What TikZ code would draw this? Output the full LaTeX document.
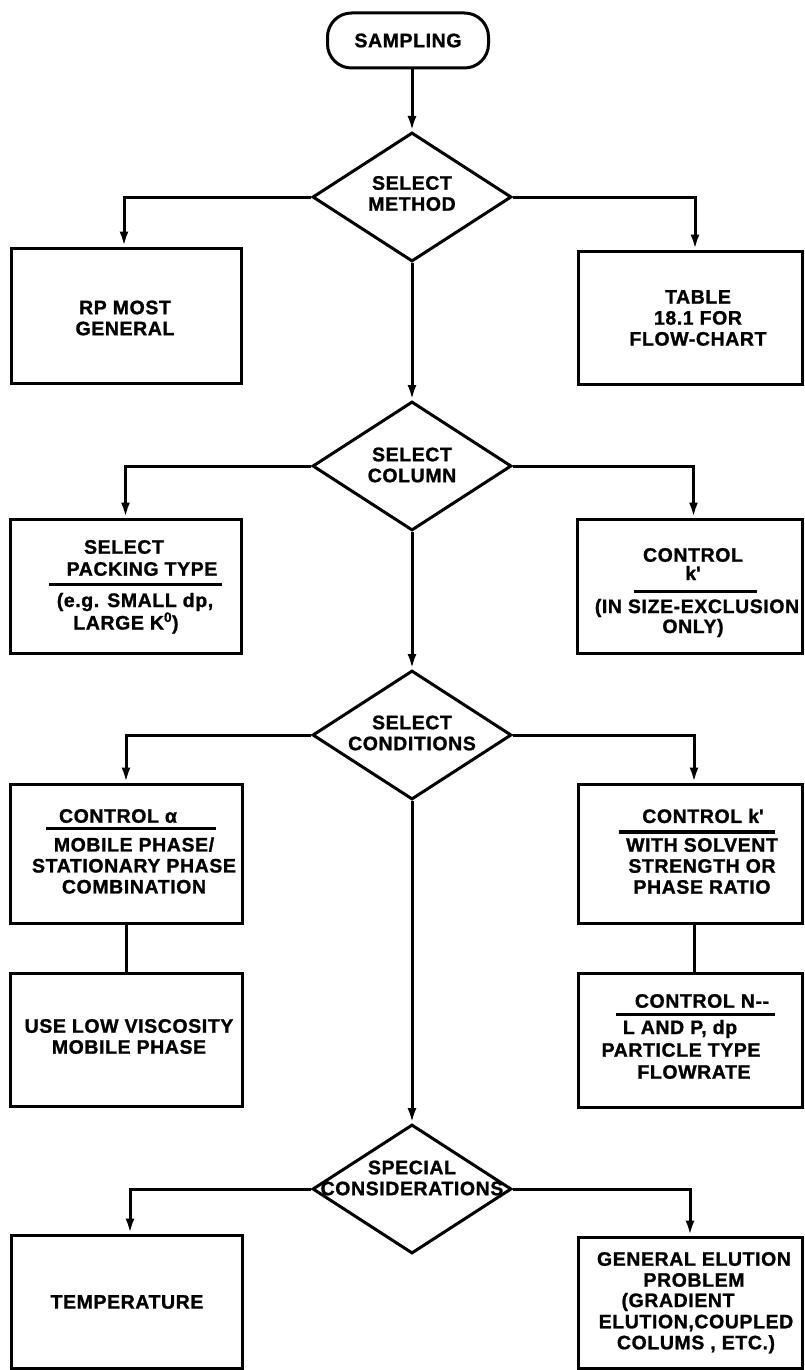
\documentclass[tikz,border=0pt]{standalone}
\usepackage{fontspec}
\setmainfont{Liberation Sans}[LetterSpace=3,FakeBold=1.2]
\usetikzlibrary{shapes.geometric,arrows.meta}
\begin{document}
\begin{tikzpicture}[x=1pt,y=-1pt,line width=3pt,
  box/.style={draw,rectangle,inner sep=0pt},
  term/.style={draw,rectangle,rounded corners=24pt,inner sep=0pt,minimum width=161pt,minimum height=55pt,
    font=\bfseries\fontsize{19.5}{21}\selectfont},
  dia/.style={draw,diamond,inner sep=0pt,minimum width=199pt,minimum height=129pt},
  txt/.style={font=\bfseries\fontsize{19.5}{21}\selectfont,inner sep=0pt,align=center},
  arr/.style={-{Latex[length=15pt,width=9pt]}},
  rul/.style={line width=3pt},
  ]
\useasboundingbox (0,0) rectangle (805,1370);

% start
\node[term] (samp) at (408,40.5) {SAMPLING};

% diamonds
\node[dia] (meth) at (412,197) {};
\node[txt] (methT) at (412,193.5) {SELECT\\METHOD};
\node[dia] (col) at (412,466) {};
\node[txt] (colT) at (412,465) {SELECT\\COLUMN};
\node[dia] (cond) at (412,735) {};
\node[txt] (condT) at (412,733) {SELECT\\CONDITIONS};
\node[dia] (spec) at (412,1189) {};
\node[txt] (specT) at (412,1178) {SPECIAL\\CONSIDERATIONS};

% boxes
\node[box,minimum width=230pt,minimum height=135pt] (rp) at (126,315.5) {};
\node[box,minimum width=224pt,minimum height=133pt] (table) at (690,317.5) {};
\node[box,minimum width=231pt,minimum height=134pt] (pack) at (125.5,586) {};
\node[box,minimum width=225pt,minimum height=134pt] (ckone) at (689.5,586) {};
\node[box,minimum width=232pt,minimum height=139pt] (calpha) at (126,853.5) {};
\node[box,minimum width=224pt,minimum height=139pt] (cktwo) at (690,853.5) {};
\node[box,minimum width=232pt,minimum height=133pt] (visc) at (126,1039.5) {};
\node[box,minimum width=224pt,minimum height=134pt] (cn) at (690,1040) {};
\node[box,minimum width=231pt,minimum height=133pt] (temp) at (126.5,1301.5) {};
\node[box,minimum width=224pt,minimum height=131pt] (gen) at (690,1302.5) {};

% box texts
\node[txt] (rpT) at (125,318) {RP MOST\\GENERAL};
\node[txt] (tableT) at (698,318) {TABLE\\18.1 FOR\\FLOW-CHART};

\node[txt] (packA) at (124,547) {SELECT};
\node[txt] (packB) at (142,569) {PACKING TYPE};
\draw[rul] (49,584) coordinate (packL) -- (222,584) coordinate (packR);
\node[txt] (packC) at (135,602) {(e.g. SMALL dp,};
\node[txt] (packD) at (126,623) {LARGE K\textsuperscript{0})};

\node[txt] (ckoneA) at (693,555) {CONTROL};
\node[txt] (ckoneB) at (693,573) {k\textquotesingle};
\draw[rul] (634,591) coordinate (ckoneL) -- (757,591) coordinate (ckoneR);
\node[txt] (ckoneC) at (697,608) {(IN SIZE-EXCLUSION};
\node[txt] (ckoneD) at (693,628) {ONLY)};

\node[txt] (calphaA) at (118,816) {CONTROL α};
\draw[rul] (46,828) coordinate (calphaL) -- (216,828) coordinate (calphaR);
\node[txt] (calphaB) at (134,865.5) {MOBILE PHASE/\\STATIONARY PHASE\\COMBINATION};

\node[txt] (cktwoA) at (703,816) {CONTROL k\textquotesingle};
\draw[line width=4pt] (619,832) coordinate (cktwoL) -- (775,832) coordinate (cktwoR);
\node[txt] (cktwoB) at (702,866) {WITH SOLVENT\\STRENGTH OR\\PHASE RATIO};

\node[txt] (viscT) at (129,1036.5) {USE LOW VISCOSITY\\MOBILE PHASE};

\node[txt] (cnA) at (702,1001) {CONTROL N{-}{-}};
\draw[rul] (616,1014) coordinate (cnL) -- (775,1014) coordinate (cnR);
\node[txt] (cnB) at (680,1029) {L AND P, dp};
\node[txt] (cnC) at (681,1050) {PARTICLE TYPE};
\node[txt] (cnD) at (694,1072) {FLOWRATE};

\node[txt] (tempT) at (127,1302) {TEMPERATURE};

\node[txt] (genA) at (694,1269.5) {GENERAL ELUTION\\PROBLEM};
\node[txt] (genB) at (678,1302) {(GRADIENT};
\node[txt] (genC) at (696,1334) {ELUTION,COUPLED\\COLUMS , ETC.)};

% connectors
\draw[arr] (samp.south -| meth.north) -- (meth.north);
\draw[arr] (meth.west) -| ([xshift=-2pt]rp.north);
\draw[arr] (meth.east) -| ([xshift=5pt]table.north);
\draw[arr] (meth.south) -- (col.north);
\draw[arr] (col.west) -| (pack.north);
\draw[arr] (col.east) -| ([xshift=4pt]ckone.north);
\draw[arr] (col.south) -- (cond.north);
\draw[arr] (cond.west) -| (calpha.north);
\draw[arr] (cond.east) -| ([xshift=4pt]cktwo.north);
\draw (calpha.south) -- (visc.north);
\draw ([xshift=4pt]cktwo.south) -- ([xshift=4pt]cn.north);
\draw[arr] (cond.south) -- (spec.north);
\draw[arr] (spec.west) -| ([xshift=3.5pt]temp.north);
\draw[arr] (spec.east) -| (gen.north);
\end{tikzpicture}
\end{document}
